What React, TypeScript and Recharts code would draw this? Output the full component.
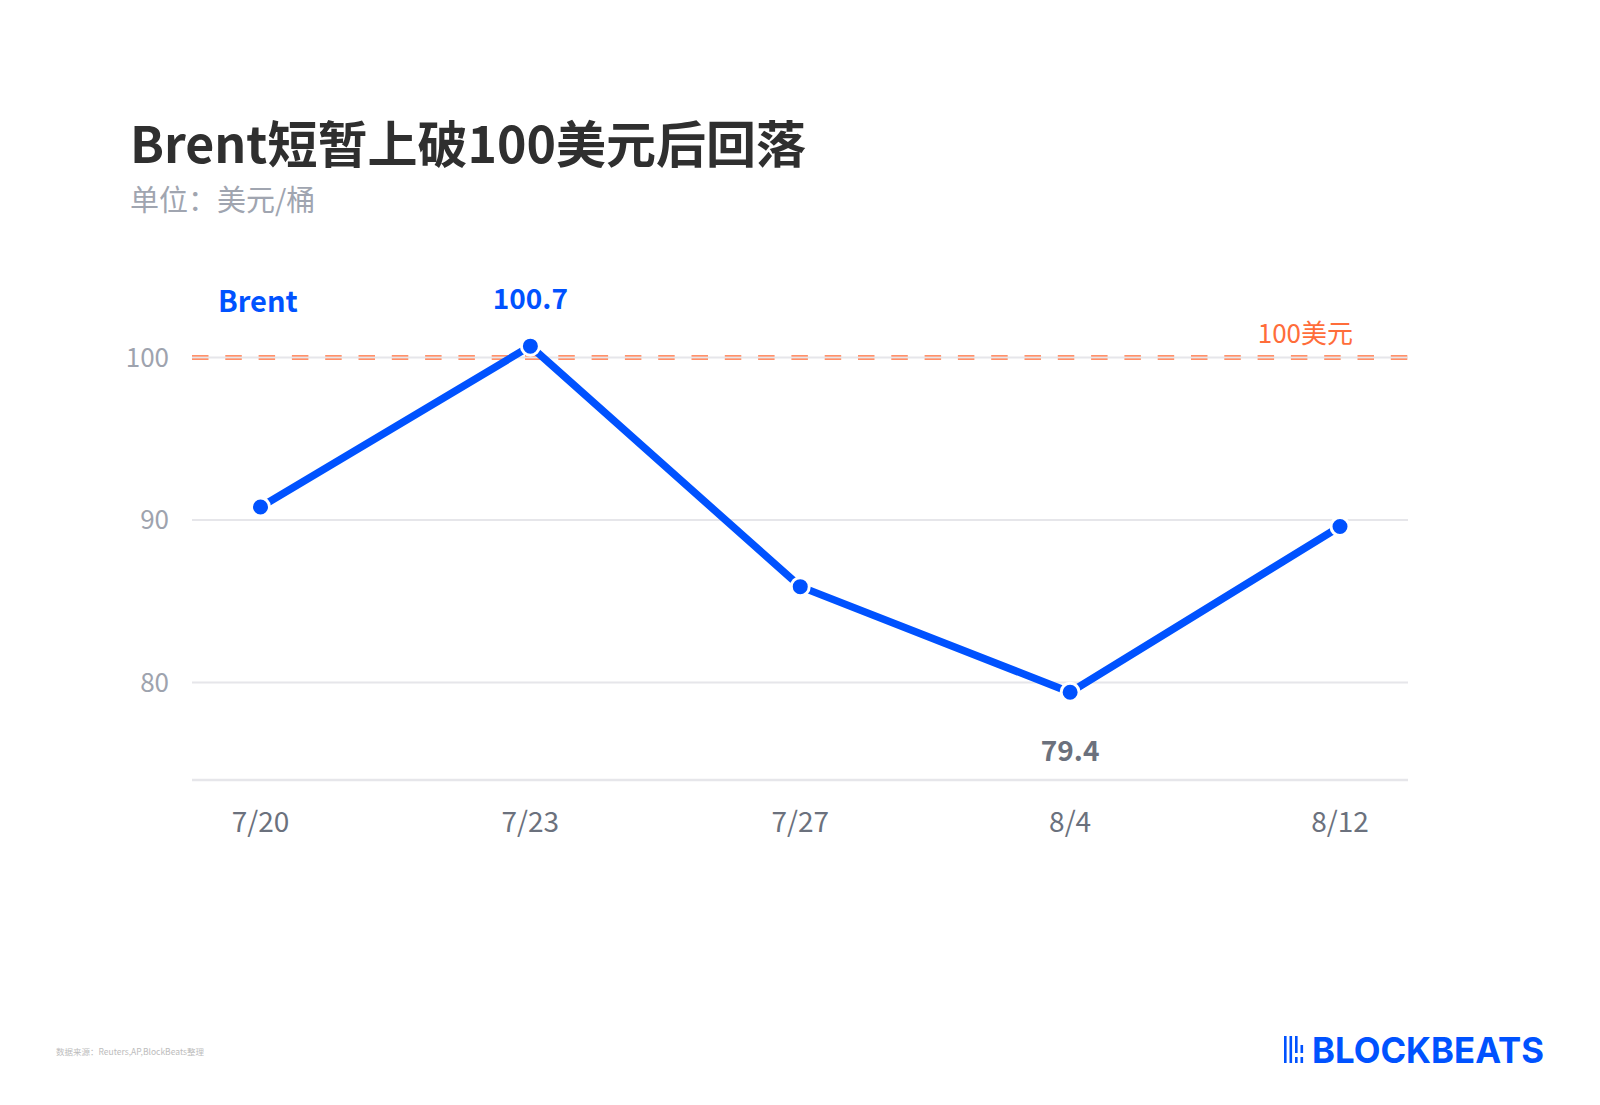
import React from "react";
import {
    LineChart,
    Line,
    XAxis,
    YAxis,
    CartesianGrid,
    ReferenceLine,
    LabelList,
} from "recharts";

const categories = ["7/20", "7/23", "7/27", "8/4", "8/12"];
const brentValues = [90.8, 100.7, 85.9, 79.4, 89.6];
const yTicks = [80, 90, 100];
const yDomain = [74, 104];
const threshold = 100;
const thresholdLabel = "100美元";
const seriesName = "Brent";
const labelAbove = ["7/23"];
const labelBelow = ["8/4"];

const data = categories.map((date, i) => ({ date, brent: brentValues[i] }));

const FONT = "'Noto Sans CJK SC', 'Noto Sans', sans-serif";
const BLUE = "#0052ff";
const ORANGE = "#ff6d3a";
const GRID = "#e6e6ea";

function PointLabel(props: any) {
    const { index, value } = props;
    const x = props.x ?? props.viewBox?.x;
    const y = props.y ?? props.viewBox?.y;
    const cat = categories[index];
    if (labelAbove.includes(cat)) {
        return (
            <text x={x} y={y - 37} textAnchor="middle" fill={BLUE}
                  fontSize={28} fontWeight={700} fontFamily={FONT}>
                {value}
            </text>
        );
    }
    if (labelBelow.includes(cat)) {
        return (
            <text x={x} y={y + 69} textAnchor="middle" fill="#6b717d"
                  fontSize={28} fontWeight={700} fontFamily={FONT}>
                {value}
            </text>
        );
    }
    return null;
}

// two thin orange dashes either side of the 100 grid line
function DoubleDash(p: any) {
    return (
        <g>
            <line x1={p.x1} x2={p.x2} y1={p.y1 - 1.6} y2={p.y2 - 1.6}
                  stroke={ORANGE} strokeWidth={1.3} strokeDasharray="16.5 16.8" />
            <line x1={p.x1} x2={p.x2} y1={p.y1 + 1.6} y2={p.y2 + 1.6}
                  stroke={ORANGE} strokeWidth={1.3} strokeDasharray="16.5 16.8" />
        </g>
    );
}

function ThresholdLabel(props: any) {
    const vb = props.viewBox || {};
    return (
        <text x={vb.x + vb.width - 55} y={vb.y - 15} textAnchor="end"
              fill={ORANGE} fontSize={26} fontFamily={FONT}>
            {thresholdLabel}
        </text>
    );
}

function Logo() {
    return (
        <svg width={280} height={56} style={{ position: "absolute", left: 1280, top: 1024 }}>
            <rect x={4} y={12} width={2.6} height={27} fill={BLUE} />
            <rect x={9.5} y={12} width={2.6} height={27} fill={BLUE} />
            <rect x={15} y={12} width={2.6} height={17} fill={BLUE} />
            <rect x={15} y={33} width={2.6} height={6} fill={BLUE} />
            <rect x={20.5} y={21} width={2.6} height={8} fill={BLUE} />
            <rect x={20.5} y={33} width={2.6} height={6} fill={BLUE} />
            <text x={32} y={39} textLength={232} lengthAdjust="spacingAndGlyphs"
                  fill={BLUE} fontSize={36} fontWeight={700}
                  fontFamily="Inter, 'DejaVu Sans', sans-serif">
                BLOCKBEATS
            </text>
        </svg>
    );
}

export default function App() {
    return (
        <div style={{ position: "relative", width: 1600, height: 1105, margin: -8,
                      background: "#fff", fontFamily: FONT, overflow: "hidden" }}>
            <div style={{ position: "absolute", left: 130, top: 116, fontSize: 50,
                          lineHeight: "50px", fontWeight: 700, color: "#2f2f2f",
                          whiteSpace: "nowrap" }}>
                Brent短暂上破100美元后回落
            </div>
            <div style={{ position: "absolute", left: 130, top: 184, fontSize: 29,
                          lineHeight: "29px", color: "#a0a5b0", whiteSpace: "nowrap" }}>
                单位：美元/桶
            </div>
            <div style={{ position: "absolute", left: 218, top: 285, fontSize: 29,
                          lineHeight: "29px", fontWeight: 700, color: BLUE }}>
                {seriesName}
            </div>

            <div style={{ position: "absolute", left: 0, top: 0 }}>
                <LineChart width={1600} height={1105} data={data}
                           margin={{ top: 292.5, right: 192, left: 130, bottom: 265 }}>
                    <CartesianGrid vertical={false} stroke={GRID} strokeWidth={2}
                                   horizontalValues={yTicks} />
                    <XAxis dataKey="date" padding={{ left: 68.5, right: 68 }}
                           height={60} tickLine={false} tickSize={0} tickMargin={32}
                           axisLine={{ stroke: GRID, strokeWidth: 2.5 }}
                           tick={{ fill: "#6b717d", fontSize: 28, fontFamily: FONT }} />
                    <YAxis domain={yDomain} ticks={yTicks} width={62}
                           axisLine={false} tickLine={false} tickSize={0} tickMargin={23}
                           tick={{ fill: "#9ea3ae", fontSize: 26, fontFamily: FONT }} />
                    <ReferenceLine y={threshold} shape={DoubleDash}
                                   label={<ThresholdLabel />} />
                    <Line
                        type="linear"
                        dataKey="brent"
                        name={seriesName}
                        stroke={BLUE}
                        strokeWidth={7.5}
                        dot={{ r: 9, fill: BLUE, stroke: "#fff", strokeWidth: 3 }}
                        activeDot={false}
                        isAnimationActive={false}
                    >
                        <LabelList dataKey="brent" content={<PointLabel />} />
                    </Line>
                </LineChart>
            </div>

            <div style={{ position: "absolute", left: 56, top: 1047, fontSize: 8.5,
                          lineHeight: "9px", color: "#bcbcbc", whiteSpace: "nowrap" }}>
                数据来源：Reuters,AP,BlockBeats整理
            </div>
            <Logo />
        </div>
    );
}
